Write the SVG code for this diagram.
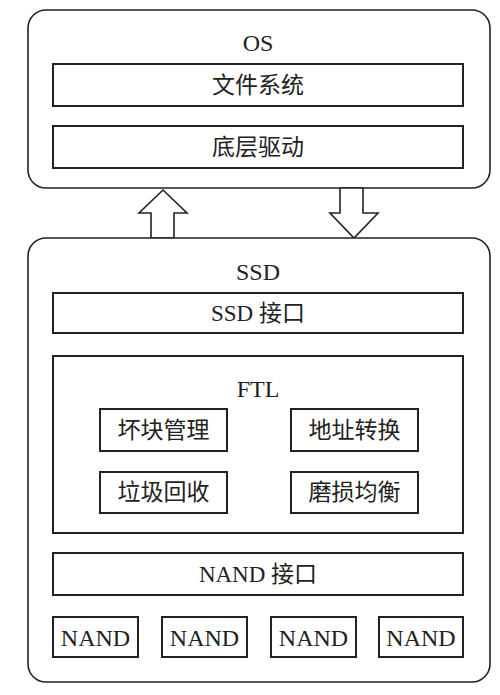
<svg xmlns="http://www.w3.org/2000/svg" width="500" height="695" viewBox="0 0 500 695">
<style>
.outer{fill:#fff;stroke:#222;stroke-width:1.6}
.box{fill:#fff;stroke:#222;stroke-width:2}
.arrow{fill:#fff;stroke:#222;stroke-width:1.6;stroke-linejoin:miter}
text{font-family:"Liberation Serif","Noto Sans CJK SC",serif;font-size:23px;fill:#222;text-anchor:middle}
.lat{font-size:24px}
</style>
<rect width="500" height="695" fill="#fff"/>
<g id="os">
<rect class="outer" x="28" y="10" width="462" height="178" rx="18"/>
<text class="lat" x="258" y="51">OS</text>
</g>
<g id="fs">
<rect class="box" x="53" y="64" width="410" height="42"/>
<text x="258" y="93">文件系统</text>
</g>
<g id="driver">
<rect class="box" x="53" y="126" width="410" height="42"/>
<text x="258" y="155">底层驱动</text>
</g>
<g id="connectors">
<polygon class="arrow" points="151,238 151,213 139,213 163,190 187,213 174,213 174,238"/>
<polygon class="arrow" points="340,188 340,213 330,213 354,238 378,213 363,213 363,188"/>
</g>
<g id="ssd">
<rect class="outer" x="28" y="238" width="462" height="444" rx="18"/>
<text class="lat" x="258" y="280">SSD</text>
</g>
<g id="ssd-if">
<rect class="box" x="53" y="293" width="410" height="40"/>
<text x="258" y="321">SSD 接口</text>
</g>
<g id="ftl">
<rect class="box" x="53" y="356" width="410" height="177"/>
<text class="lat" x="258" y="397">FTL</text>
</g>
<g id="bad-block">
<rect class="box" x="100" y="409" width="127" height="42"/>
<text x="163.5" y="438">坏块管理</text>
</g>
<g id="addr">
<rect class="box" x="291" y="409" width="127" height="42"/>
<text x="354.5" y="438">地址转换</text>
</g>
<g id="gc">
<rect class="box" x="100" y="472" width="127" height="41"/>
<text x="163.5" y="500">垃圾回收</text>
</g>
<g id="wl">
<rect class="box" x="291" y="472" width="127" height="41"/>
<text x="354.5" y="500">磨损均衡</text>
</g>
<g id="nand-if">
<rect class="box" x="53" y="553" width="410" height="42"/>
<text x="258" y="582">NAND 接口</text>
</g>
<g id="nand1">
<rect class="box" x="53" y="617" width="85" height="40"/>
<text class="lat" x="95.5" y="646">NAND</text>
</g>
<g id="nand2">
<rect class="box" x="162" y="617" width="85" height="40"/>
<text class="lat" x="204.5" y="646">NAND</text>
</g>
<g id="nand3">
<rect class="box" x="271" y="617" width="85" height="40"/>
<text class="lat" x="313.5" y="646">NAND</text>
</g>
<g id="nand4">
<rect class="box" x="379" y="617" width="84" height="40"/>
<text class="lat" x="421" y="646">NAND</text>
</g>
</svg>
